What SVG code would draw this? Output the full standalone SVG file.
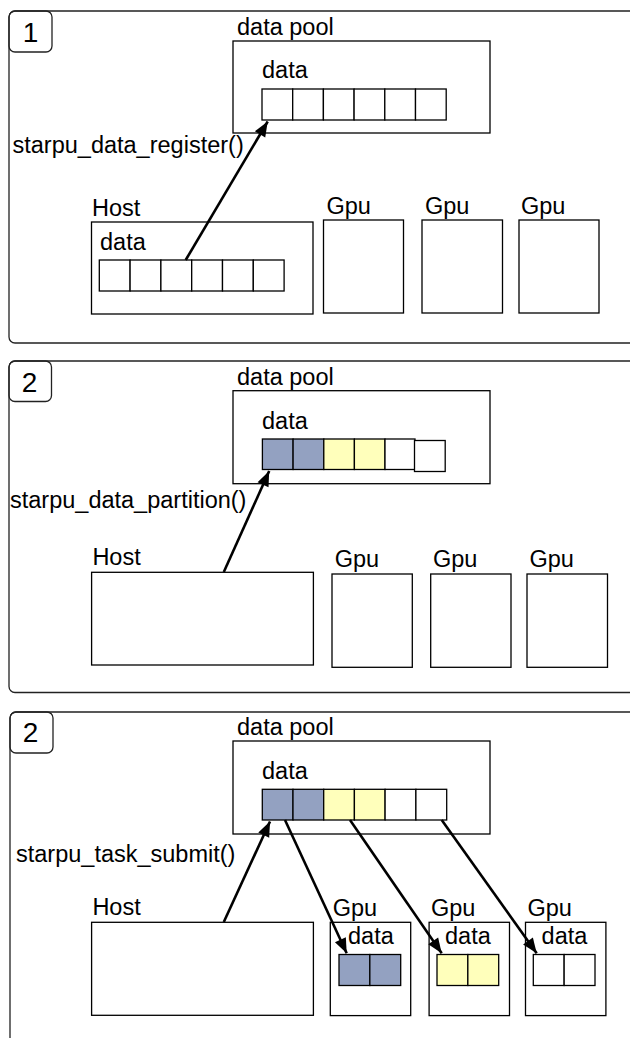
<svg xmlns="http://www.w3.org/2000/svg" width="630" height="1038" viewBox="0 0 630 1038">
<style>
text{font-family:"Liberation Sans",Arial,Helvetica,sans-serif;font-size:23.5px;fill:#000}
.num{font-size:28px;text-anchor:middle}
.frame{fill:none;stroke:#222;stroke-width:1.3}
.box{fill:#fff;stroke:#000;stroke-width:1.3}
.cell{fill:#fff;stroke:#000;stroke-width:1.3}
.b{fill:#93a1c1}
.y{fill:#ffffbb}
.arrow{stroke:#000;stroke-width:2.6;fill:none;marker-end:url(#ah)}
</style>
<defs>
<marker id="ah" markerUnits="userSpaceOnUse" markerWidth="16" markerHeight="12" refX="15" refY="6" orient="auto" overflow="visible">
<path d="M0,0 L15,6 L0,12 z" fill="#000"/>
</marker>
</defs>
<rect width="630" height="1038" fill="#fff"/>

<!-- Panel 1 -->
<g id="panel1">
<rect class="frame" x="9" y="11" width="700" height="332" rx="6"/>
<rect class="frame" x="9" y="11" width="43" height="41" rx="6"/>
<text class="num" x="30.5" y="41.5">1</text>
</g>
<g id="pool1">
<text x="237" y="35">data pool</text>
<rect class="box" x="233" y="41" width="257" height="92"/>
<text x="262" y="78">data</text>
<rect class="cell" x="262" y="89" width="30.7" height="31"/>
<rect class="cell" x="292.7" y="89" width="30.7" height="31"/>
<rect class="cell" x="323.4" y="89" width="30.7" height="31"/>
<rect class="cell" x="354.1" y="89" width="30.7" height="31"/>
<rect class="cell" x="384.8" y="89" width="30.7" height="31"/>
<rect class="cell" x="415.5" y="89" width="30.7" height="31"/>
</g>
<g id="label1"><text x="12.5" y="153">starpu_data_register()</text></g>
<g id="host1">
<text x="92" y="216">Host</text>
<rect class="box" x="91.5" y="222" width="221.5" height="92"/>
<text x="100" y="250">data</text>
<rect class="cell" x="99.3" y="260" width="30.8" height="31"/>
<rect class="cell" x="130.1" y="260" width="30.8" height="31"/>
<rect class="cell" x="160.9" y="260" width="30.8" height="31"/>
<rect class="cell" x="191.7" y="260" width="30.8" height="31"/>
<rect class="cell" x="222.5" y="260" width="30.8" height="31"/>
<rect class="cell" x="253.3" y="260" width="30.8" height="31"/>
</g>
<g id="gpu1a"><text x="326.5" y="214">Gpu</text><rect class="box" x="323.5" y="220" width="80" height="93"/></g>
<g id="gpu1b"><text x="425" y="214">Gpu</text><rect class="box" x="422" y="220" width="80.5" height="93"/></g>
<g id="gpu1c"><text x="521" y="214">Gpu</text><rect class="box" x="519" y="220" width="80" height="93"/></g>

<!-- Panel 2 -->
<g id="panel2">
<rect class="frame" x="9" y="361" width="700" height="331.5" rx="6"/>
<rect class="frame" x="9" y="361" width="42.5" height="40.5" rx="6"/>
<text class="num" x="29.5" y="391.7">2</text>
</g>
<g id="pool2">
<text x="237" y="385">data pool</text>
<rect class="box" x="233" y="390.7" width="257" height="93"/>
<text x="262" y="429">data</text>
<rect class="cell b" x="262.4" y="439" width="30.7" height="30.5"/>
<rect class="cell b" x="293.1" y="439" width="30.7" height="30.5"/>
<rect class="cell y" x="323.8" y="439" width="30.6" height="30.5"/>
<rect class="cell y" x="354.4" y="439" width="30.6" height="30.5"/>
<rect class="cell" x="385" y="439" width="30" height="30.5"/>
<rect class="cell" x="414.5" y="440.5" width="30.7" height="31"/>
</g>
<g id="label2"><text x="10" y="508">starpu_data_partition()</text></g>
<g id="host2">
<text x="92.4" y="565">Host</text>
<rect class="box" x="91.6" y="572.3" width="221.8" height="92.7"/>
</g>
<g id="gpu2a"><text x="334.7" y="567">Gpu</text><rect class="box" x="332" y="574" width="80.3" height="93.3"/></g>
<g id="gpu2b"><text x="433" y="567">Gpu</text><rect class="box" x="430.7" y="574" width="80.3" height="93.3"/></g>
<g id="gpu2c"><text x="529.5" y="567">Gpu</text><rect class="box" x="527" y="574" width="80.5" height="93.3"/></g>

<!-- Panel 3 -->
<g id="panel3">
<rect class="frame" x="10" y="712" width="700" height="400" rx="6"/>
<rect class="frame" x="10" y="712" width="43" height="41" rx="6"/>
<text class="num" x="30.5" y="741.7">2</text>
</g>
<g id="pool3">
<text x="237" y="735">data pool</text>
<rect class="box" x="233" y="741" width="257" height="93"/>
<text x="262" y="779">data</text>
<rect class="cell b" x="262.3" y="789.3" width="30.7" height="30.7"/>
<rect class="cell b" x="293" y="789.3" width="30.7" height="30.7"/>
<rect class="cell y" x="323.7" y="789.3" width="30.7" height="30.7"/>
<rect class="cell y" x="354.4" y="789.3" width="30.7" height="30.7"/>
<rect class="cell" x="385.1" y="789.3" width="30.8" height="30.7"/>
<rect class="cell" x="415.9" y="789.3" width="30.8" height="30.7"/>
</g>
<g id="label3"><text x="16" y="861.7">starpu_task_submit()</text></g>
<g id="host3">
<text x="92.4" y="915">Host</text>
<rect class="box" x="91.6" y="922.3" width="221.8" height="93"/>
</g>
<g id="gpu3a">
<text x="332.7" y="915.7">Gpu</text>
<rect class="box" x="330.3" y="922.3" width="80.4" height="93.3"/>
<text x="348" y="943.7">data</text>
<rect class="cell b" x="339" y="954.5" width="30.85" height="31"/>
<rect class="cell b" x="369.85" y="954.5" width="30.85" height="31"/>
</g>
<g id="gpu3b">
<text x="431" y="915.7">Gpu</text>
<rect class="box" x="429.1" y="922.3" width="80.4" height="93.3"/>
<text x="445" y="943.7">data</text>
<rect class="cell y" x="437" y="954.5" width="30.85" height="31"/>
<rect class="cell y" x="467.85" y="954.5" width="30.85" height="31"/>
</g>
<g id="gpu3c">
<text x="527.5" y="915.7">Gpu</text>
<rect class="box" x="525.5" y="922.3" width="80.4" height="93.3"/>
<text x="541.6" y="943.7">data</text>
<rect class="cell" x="533.3" y="954.5" width="30.85" height="31"/>
<rect class="cell" x="564.15" y="954.5" width="30.85" height="31"/>
</g>

<!-- Connectors -->
<g id="connectors">
<line class="arrow" x1="185.7" y1="260" x2="267.7" y2="121.5"/>
<line class="arrow" x1="223.8" y1="572" x2="269.2" y2="471"/>
<line class="arrow" x1="223.8" y1="922" x2="270" y2="821.5"/>
<line class="arrow" x1="285" y1="820" x2="346.7" y2="953.3"/>
<line class="arrow" x1="350" y1="820" x2="441.7" y2="953.3"/>
<line class="arrow" x1="441.7" y1="820" x2="536.7" y2="953.3"/>
</g>
</svg>
